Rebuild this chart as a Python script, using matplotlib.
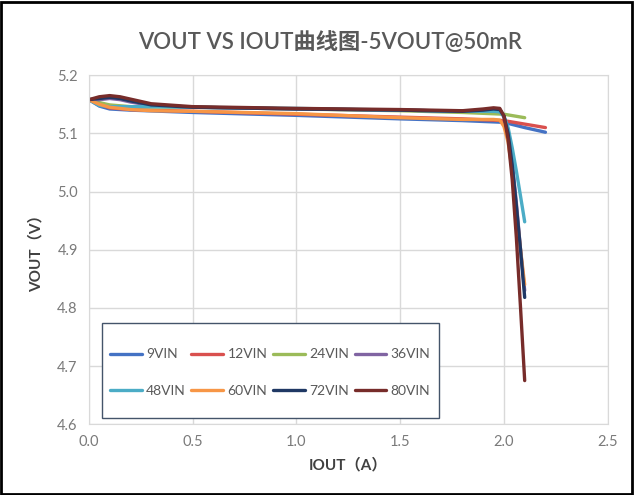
import matplotlib
matplotlib.use("Agg")
import matplotlib.pyplot as plt
from matplotlib.patches import Rectangle

plt.rcParams['font.family'] = ['Lato', 'Noto Sans CJK SC', 'DejaVu Sans']

# data (IOUT in A, VOUT in V)
x_long = [0.0, 0.05, 0.1, 0.2, 0.5, 1.0, 1.5, 1.8, 2.0, 2.1, 2.2]
x_short = [0.0, 0.05, 0.1, 0.2, 0.5, 1.0, 1.5, 1.8, 2.0, 2.1]
x_drop = [0.0, 0.05, 0.1, 0.15, 0.2, 0.3, 0.5, 1.0, 1.5, 1.8, 1.9, 1.95, 1.98, 2.0, 2.02, 2.04, 2.06, 2.08, 2.1]

v_9 = [5.158, 5.147, 5.142, 5.140, 5.136, 5.131, 5.125, 5.122, 5.119, 5.110, 5.102]
v_12 = [5.158, 5.150, 5.144, 5.141, 5.138, 5.133, 5.128, 5.125, 5.122, 5.116, 5.110]
v_24 = [5.158, 5.153, 5.149, 5.146, 5.145, 5.142, 5.139, 5.136, 5.133, 5.127]
v_36 = [5.158, 5.158, 5.160, 5.158, 5.154, 5.148, 5.145, 5.142, 5.140, 5.138, 5.139, 5.141, 5.140, 5.128, 5.100, 5.050, 4.980, 4.900, 4.830]
v_48 = [5.158, 5.148, 5.146, 5.146, 5.146, 5.146, 5.145, 5.143, 5.140, 5.138, 5.138, 5.138, 5.137, 5.130, 5.110, 5.075, 5.035, 4.992, 4.948]
v_60 = [5.158, 5.150, 5.145, 5.143, 5.141, 5.139, 5.138, 5.134, 5.127, 5.124, 5.124, 5.124, 5.123, 5.112, 5.085, 5.035, 4.965, 4.900, 4.840]
v_72 = [5.158, 5.160, 5.162, 5.160, 5.156, 5.149, 5.145, 5.142, 5.140, 5.138, 5.140, 5.142, 5.141, 5.130, 5.100, 5.045, 4.975, 4.900, 4.818]
v_80 = [5.158, 5.163, 5.165, 5.163, 5.159, 5.151, 5.146, 5.143, 5.141, 5.139, 5.142, 5.144, 5.143, 5.130, 5.090, 5.020, 4.920, 4.800, 4.675]

names = ["9VIN", "12VIN", "24VIN", "36VIN", "48VIN", "60VIN", "72VIN", "80VIN"]
xs_all = [x_long, x_long, x_short, x_drop, x_drop, x_drop, x_drop, x_drop]
vs_all = [v_9, v_12, v_24, v_36, v_48, v_60, v_72, v_80]
colors = ["#4472C4", "#D9504E", "#9BBB59", "#8064A2", "#4BACC6", "#F79646", "#1F3864", "#772C2A"]

fig = plt.figure(figsize=(6.35, 4.95), dpi=100)
ax = fig.add_axes([0.140, 0.143, 0.817, 0.705])

lines = []
for name, xs, ys, c in zip(names, xs_all, vs_all, colors):
    ln, = ax.plot(xs, ys, color=c, lw=2.4, label=name, solid_capstyle='round',
                  solid_joinstyle='round')
    lines.append(ln)

ax.set_xlim(0, 2.5)
ax.set_ylim(4.6, 5.2)
ax.set_xticks([0.0, 0.5, 1.0, 1.5, 2.0, 2.5])
ax.set_yticks([4.6, 4.7, 4.8, 4.9, 5.0, 5.1, 5.2])
ax.xaxis.set_major_formatter(plt.FormatStrFormatter('%.1f'))
ax.yaxis.set_major_formatter(plt.FormatStrFormatter('%.1f'))
ax.grid(True, color='#D9D9D9', lw=1)
ax.set_axisbelow(True)
for s in ax.spines.values():
    s.set_color('#D9D9D9')
ax.tick_params(length=0, labelsize=10.5, colors='#7a7a7a', pad=8)

ax.set_xlabel("IOUT（A）", fontsize=11, fontweight='bold', color='#404040', labelpad=6)
ax.set_ylabel("VOUT（V）", fontsize=11, fontweight='bold', color='#404040', labelpad=10)
fig.text(0.52, 0.915, "VOUT VS IOUT曲线图-5VOUT@50mR", ha='center', va='center',
         fontsize=16, fontweight='semibold', color='#595959')

# legend box drawn separately, entries filled row by row
box = (0.025, 0.017, 0.649, 0.272)
ax.add_patch(Rectangle(box[:2], box[2], box[3], transform=ax.transAxes,
                       facecolor='white', edgecolor='#44546A', lw=1, zorder=4))
order = [0, 4, 1, 5, 2, 6, 3, 7]
leg = ax.legend([lines[i] for i in order], [names[i] for i in order], ncol=4,
                loc='center', bbox_to_anchor=(box[0] + box[2] / 2, box[1] + box[3] / 2 - 0.005),
                fontsize=10, frameon=False,
                handlelength=2.3, handletextpad=0.3, columnspacing=0.4,
                labelspacing=1.75, borderpad=0, borderaxespad=0)
leg.set_zorder(5)
for t in leg.get_texts():
    t.set_color('#595959')

fig.add_artist(Rectangle((0.002, 0.002), 0.994, 0.994, transform=fig.transFigure,
                         fill=False, edgecolor='black', lw=2))

fig.savefig("out.png", dpi=100)
